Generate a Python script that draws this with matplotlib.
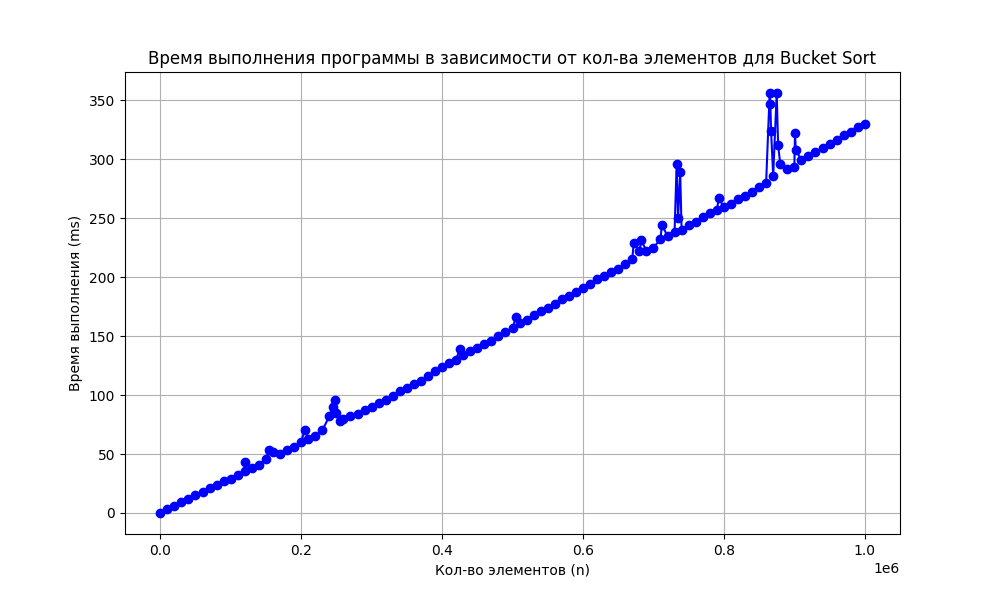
import matplotlib
matplotlib.use("Agg")
import matplotlib.pyplot as plt
import numpy as np

n_k = [0, 10, 20, 30, 40, 50, 60, 70, 80, 90, 100, 110, 120, 121, 130, 140, 150, 155, 160, 170,
       180, 190, 200, 205, 210, 220, 230, 240, 245, 248, 250, 255, 260, 270, 280, 290, 300, 310,
       320, 330, 340, 350, 360, 370, 380, 390, 400, 410, 420, 425, 430, 440, 450, 460, 470, 480,
       490, 500, 505, 510, 520, 530, 540, 550, 560, 570, 580, 590, 600, 610, 620, 630, 640, 650,
       660, 670, 672, 680, 683, 690, 700, 710, 712, 720, 730, 733, 735, 738, 740, 750, 760, 770,
       780, 790, 793, 800, 810, 820, 830, 840, 850, 860, 865, 866, 867, 870, 875, 877, 880, 890,
       900, 901, 902, 910, 920, 930, 940, 950, 960, 970, 980, 990, 1000]
times = [0, 3, 6, 9, 12, 15, 18, 21, 24, 27, 29, 32, 36, 43, 38, 41, 46, 53, 52, 50,
         53, 56, 60, 70, 63, 65, 70, 82, 90, 96, 85, 78, 80, 82, 84, 87, 90, 93,
         96, 99, 103, 106, 109, 112, 116, 120, 124, 127, 130, 139, 134, 137, 140, 143, 146, 150,
         153, 157, 166, 161, 164, 168, 171, 174, 177, 181, 184, 187, 191, 194, 198, 201, 204, 207,
         211, 215, 229, 222, 231, 222, 225, 232, 244, 235, 238, 296, 250, 289, 240, 244, 247, 251,
         254, 257, 267, 259, 262, 266, 269, 272, 276, 280, 356, 347, 324, 286, 356, 312, 296, 292,
         293, 322, 308, 299, 303, 306, 309, 313, 316, 320, 323, 327, 330]

n = np.array(n_k) * 1000

plt.figure(figsize=(10, 6))
plt.plot(n, times, 'bo-', markersize=6)
plt.title('Время выполнения программы в зависимости от кол-ва элементов для Bucket Sort')
plt.xlabel('Кол-во элементов (n)')
plt.ylabel('Время выполнения (ms)')
plt.grid(True)
plt.savefig('out.png', dpi=100)
